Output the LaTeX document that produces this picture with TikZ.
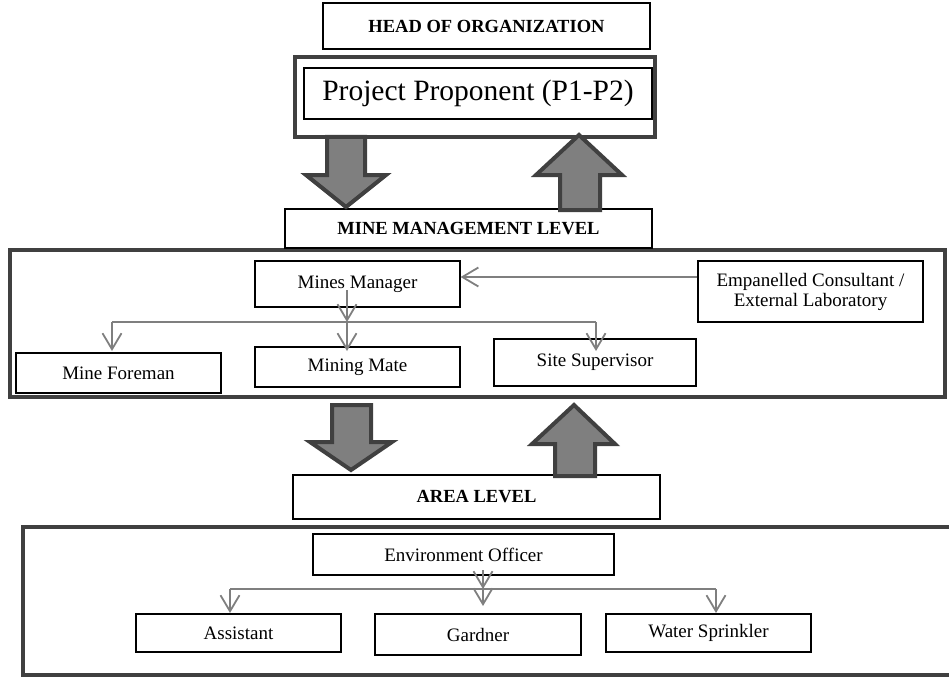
\documentclass[tikz,border=0pt]{standalone}
\usepackage{fontspec}
\setmainfont{Liberation Serif}
\usetikzlibrary{arrows.meta}
\definecolor{dk}{HTML}{404040}
\definecolor{gr}{HTML}{7F7F7F}
\begin{document}
\begin{tikzpicture}[x=1bp,y=-1bp,
  box/.style={draw=black, line width=1.2bp, fill=white, inner sep=0pt, align=center,
    font=\fontsize{19bp}{20bp}\selectfont},
  bbox/.style={box, font=\fontsize{18.5bp}{20bp}\selectfont\bfseries},
  frame/.style={draw=dk, line width=4.5bp, inner sep=0pt},
  conn/.style={draw=gr, line width=1.8bp},
  tip/.style={conn, -{Straight Barb[length=16bp,width=19bp]}},
  blk/.style={draw=dk, fill=gr, line width=4bp, line join=miter}]
\useasboundingbox (0,0) rectangle (949,681);

% frames
\node[frame, minimum width=935bp, minimum height=147bp] (lvl1) at (477.5,323.5) {};
\node[frame, minimum width=932bp, minimum height=148bp] (lvl2) at (489,601) {};
\node[frame, fill=white, minimum width=360bp, minimum height=80bp] (ppo) at (475,97) {};

% boxes
\node[bbox, minimum width=327bp, minimum height=46bp] (head) at (486.5,26) {HEAD OF ORGANIZATION};
\node[box, minimum width=348bp, minimum height=51bp, font=\fontsize{29.5bp}{32bp}\selectfont] (pp) at (478,93.5) {Project Proponent (P1-P2)};
\node[bbox, minimum width=367bp, minimum height=39bp] (mml) at (468.5,228.5) {MINE MANAGEMENT LEVEL};
\node[box, minimum width=205bp, minimum height=46bp] (mm) at (357.5,284) {Mines Manager};
\node[box, minimum width=225bp, minimum height=61bp] (emp) at (810.5,291.5) {Empanelled Consultant /\\External Laboratory};
\node[box, minimum width=205bp, minimum height=40bp] (mf) at (118.5,373) {Mine Foreman};
\node[box, minimum width=205bp, minimum height=40bp] (mmate) at (357.5,367) {Mining Mate};
\node[box, minimum width=202bp, minimum height=47bp] (ss) at (595,362.5) {Site Supervisor};
\node[bbox, minimum width=367bp, minimum height=44bp] (area) at (476.5,497) {AREA LEVEL};
\node[box, minimum width=301bp, minimum height=41bp] (eo) at (463.5,554.5) {Environment Officer};
\node[box, minimum width=205bp, minimum height=38bp] (asst) at (238.5,633) {Assistant};
\node[box, minimum width=206bp, minimum height=41bp] (gard) at (478,634.5) {Gardner};
\node[box, minimum width=205bp, minimum height=38bp] (ws) at (708.5,633) {Water Sprinkler};

% connectors, mine management level
\coordinate (mmout) at (347,290);
\coordinate (b1) at (347,322);
\coordinate (bl) at (112,322);
\coordinate (br) at (596,322);
\coordinate (ty1) at (0,351);
\coordinate (ey) at (0,277);
\draw[tip] (emp.west |- ey) -- (mm.east |- ey);
\draw[conn] (bl) -- (br);
\draw[tip] (mmout) -- (b1);
\draw[tip] (bl) -- (bl |- ty1);
\draw[tip] (b1) -- (b1 |- ty1);
\draw[tip] (br) -- (br |- ty1);

% connectors, area level
\coordinate (eoout) at (483,570);
\coordinate (b2) at (483,589);
\coordinate (b2l) at (230,589);
\coordinate (b2r) at (716,589);
\coordinate (ty2) at (0,613);
\coordinate (ty3) at (0,606);
\draw[conn] (b2l) -- (b2r);
\draw[tip] (eoout) -- (b2);
\draw[tip] (b2l) -- (b2l |- ty2);
\draw[tip] (b2) -- (b2 |- ty3);
\draw[tip] (b2r) -- (b2r |- ty2);

% block arrows
\draw[blk] (327,137) -- (365,137) -- (365,175) -- (386,175) -- (346,207) -- (306,175) -- (327,175) -- cycle;
\draw[blk] (560,210) -- (560,175) -- (536,175) -- (579,135) -- (622,175) -- (600,175) -- (600,210) -- cycle;
\draw[blk] (332,405) -- (371,405) -- (371,442) -- (392,442) -- (351,470) -- (310,442) -- (332,442) -- cycle;
\draw[blk] (555,476) -- (555,444) -- (532,444) -- (574,405) -- (615,444) -- (595,444) -- (595,476) -- cycle;
\end{tikzpicture}
\end{document}
